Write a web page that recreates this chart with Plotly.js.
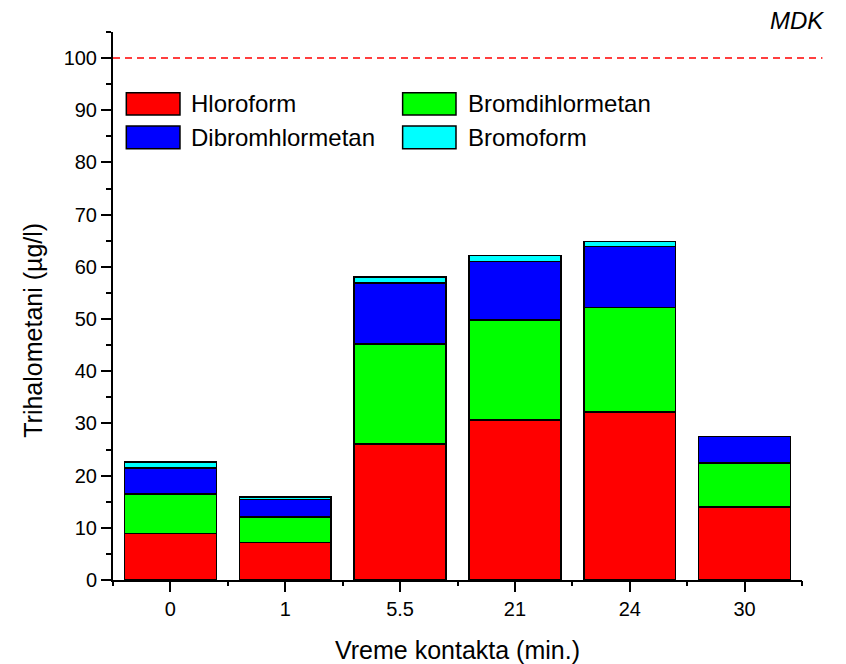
<!DOCTYPE html>
<html>
<head>
<meta charset="utf-8">
<script src="https://cdn.plot.ly/plotly-3.0.1.min.js"></script>
<style>html,body{margin:0;padding:0;background:#fff;}#chart{width:846px;height:664px;}</style>
</head>
<body>
<div id="chart"></div>
<script>
const categories = ["0", "1", "5.5", "21", "24", "30"];
const seriesNames = ["Hloroform", "Bromdihlormetan", "Dibromhlormetan", "Bromoform"];
const hloroform = [8.9, 7.15, 26.1, 30.7, 32.2, 14.0];
const bromdihlormetan = [7.6, 4.95, 19.1, 19.1, 20.0, 8.4];
const dibromhlormetan = [5.0, 3.35, 11.7, 11.2, 11.7, 5.1];
const bromoform = [1.1, 0.5, 1.2, 1.2, 0.95, 0.0];
const mdkLimit = 100;

const colors = ["#FF0000", "#00FF00", "#0000FF", "#00FFFF"];
const values = [hloroform, bromdihlormetan, dibromhlormetan, bromoform];
const FONT = "Arial, 'Liberation Sans', sans-serif";

const W = 846, H = 664;
const M = {l: 113.4, r: 44.4, t: 32, b: 83.7};
const PW = W - M.l - M.r, PH = H - M.t - M.b;
const px = x => (x - M.l) / PW;
const py = y => (H - M.b - y) / PH;

const traces = values.map((v, i) => ({
  type: "bar",
  name: seriesNames[i],
  x: categories,
  y: v,
  width: 0.8,
  marker: {color: colors[i], line: {color: "#000", width: 1.5}},
  showlegend: false,
  hoverinfo: "x+y+name"
}));

// legend (custom, drawn as shapes + text)
const legendPos = [
  {x0: 126.7, x1: 180.3, y0: 92.7, y1: 115, tx: 189},
  {x0: 402.7, x1: 456, y0: 92.7, y1: 115, tx: 465.5},
  {x0: 126.7, x1: 180.3, y0: 126, y1: 148.7, tx: 189},
  {x0: 402.7, x1: 456, y0: 126, y1: 148.7, tx: 465.5}
];
const shapes = [{
  type: "line", xref: "paper", yref: "y",
  x0: 0, x1: px(822), y0: mdkLimit, y1: mdkLimit,
  line: {color: "#FF0000", width: 1.5, dash: "7px,5px"}
}];
const annotations = [{
  xref: "paper", yref: "paper", x: px(826), y: py(20),
  xanchor: "right", yanchor: "middle", showarrow: false,
  text: "<i>MDK</i>", font: {family: FONT, size: 24, color: "#000"}
}];
legendPos.forEach((p, i) => {
  shapes.push({
    type: "rect", xref: "paper", yref: "paper",
    x0: px(p.x0), x1: px(p.x1), y0: py(p.y1), y1: py(p.y0),
    fillcolor: colors[i], line: {color: "#000", width: 1.5}
  });
  annotations.push({
    xref: "paper", yref: "paper", x: px(p.tx), y: py((p.y0 + p.y1) / 2),
    xanchor: "left", yanchor: "middle", showarrow: false,
    text: seriesNames[i], font: {family: FONT, size: 24, color: "#000"}
  });
});

const layout = {
  width: W, height: H,
  margin: M,
  paper_bgcolor: "#fff", plot_bgcolor: "#fff",
  barmode: "stack",
  bargap: 0.2,
  showlegend: false,
  font: {family: FONT, color: "#000"},
  xaxis: {
    type: "category",
    range: [-0.5, 5.5],
    showline: true, linecolor: "#000", linewidth: 2,
    ticks: "outside", ticklen: 10, tickwidth: 2, tickcolor: "#000",
    showgrid: false, zeroline: false,
    tickfont: {family: FONT, size: 20, color: "#000"},
    title: {text: "Vreme kontakta (min.)", font: {family: FONT, size: 25, color: "#000"}, standoff: 25}
  },
  xaxis2: {
    overlaying: "x", anchor: "y", side: "bottom",
    range: [-0.5, 5.5],
    tickvals: [-0.5, 0.5, 1.5, 2.5, 3.5, 4.5, 5.5],
    ticks: "outside", ticklen: 5, tickwidth: 2, tickcolor: "#000",
    showticklabels: false, showline: false, showgrid: false, zeroline: false
  },
  yaxis: {
    range: [0, 105],
    dtick: 10, tick0: 0,
    showline: true, linecolor: "#000", linewidth: 2,
    ticks: "outside", ticklen: 10, tickwidth: 2, tickcolor: "#000",
    minor: {dtick: 5, tick0: 0, ticks: "outside", ticklen: 5, tickwidth: 2, tickcolor: "#000", showgrid: false},
    showgrid: false, zeroline: false,
    tickfont: {family: FONT, size: 20, color: "#000"},
    title: {text: "Trihalometani (µg/l)&nbsp;&nbsp;&nbsp;&nbsp;&nbsp;&nbsp;&nbsp;", font: {family: FONT, size: 25, color: "#000"}, standoff: 14}
  },
  shapes: shapes,
  annotations: annotations
};

// invisible helper trace to activate the minor-tick overlay axis
const helper = {type: "scatter", x: [-0.5], y: [0], xaxis: "x2", yaxis: "y", mode: "markers",
  marker: {opacity: 0}, showlegend: false, hoverinfo: "skip"};

Plotly.newPlot("chart", traces.concat([helper]), layout, {displayModeBar: false, staticPlot: true});
</script>
</body>
</html>
